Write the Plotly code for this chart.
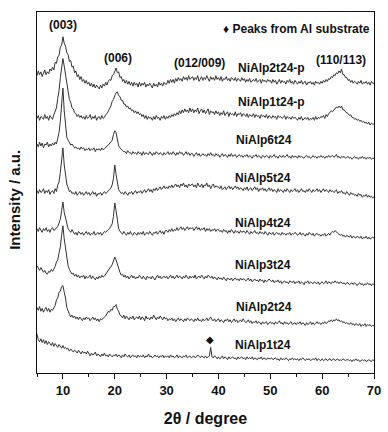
import plotly.graph_objects as go

# 2-theta sampling grid (degrees), 0.25 degree steps from 5 to 70
two_theta = [5 + 0.25 * i for i in range(261)]

sample_names = ["NiAlp2t24-p", "NiAlp1t24-p", "NiAlp6t24", "NiAlp5t24",
                "NiAlp4t24", "NiAlp3t24", "NiAlp2t24", "NiAlp1t24"]

# vertical stacking offsets (a.u.)
stack_offsets = [297, 260, 224, 182, 140, 92, 48, 12]

# intensities (a.u.); each row spans 5 degrees
i_2t24p = [16, 21, 17, 20, 15, 19, 22, 17, 20, 18, 23, 21, 25, 22, 30, 29, 36, 37, 46, 48,
           57, 50, 47, 40, 38, 31, 32, 25, 26, 19, 21, 15, 17, 12, 15, 10, 12, 8, 11, 7,
           9, 5, 8, 4, 7, 3, 6, 4, 2, 6, 3, 7, 5, 9, 6, 10, 12, 11, 16, 17,
           21, 24, 19, 20, 14, 15, 10, 12, 8, 11, 7, 10, 6, 9, 5, 9, 6, 8, 4, 9,
           5, 8, 6, 9, 4, 7, 5, 8, 6, 3, 8, 5, 7, 4, 9, 6, 8, 5, 9, 7,
           7, 11, 8, 12, 9, 12, 8, 13, 10, 14, 11, 13, 10, 15, 12, 14, 11, 16, 12, 14,
           15, 11, 14, 12, 16, 10, 13, 15, 11, 14, 12, 16, 13, 10, 15, 12, 14, 11, 16, 12,
           14, 11, 15, 10, 13, 12, 15, 11, 13, 10, 14, 12, 11, 14, 10, 13, 12, 10, 14, 11,
           13, 9, 12, 10, 13, 9, 11, 12, 10, 13, 9, 11, 12, 8, 12, 10, 11, 9, 12, 10,
           11, 8, 12, 9, 11, 7, 10, 12, 8, 11, 9, 10, 7, 11, 9, 12, 8, 10, 7, 11,
           9, 7, 10, 8, 11, 7, 9, 10, 6, 9, 8, 10, 7, 9, 6, 10, 8, 9, 7, 10,
           8, 11, 9, 12, 10, 13, 12, 15, 14, 17, 16, 19, 18, 21, 19, 23, 17, 17, 14, 14,
           11, 12, 9, 11, 8, 10, 9, 7, 10, 8, 11, 7, 9, 8, 10, 7, 9, 6, 10, 8,
           8]
i_1t24p = [8, 11, 6, 10, 9, 7, 12, 8, 10, 6, 11, 9, 7, 12, 15, 19, 29, 37, 51, 60,
           71, 63, 55, 43, 37, 28, 25, 19, 18, 14, 13, 10, 12, 9, 11, 8, 10, 7, 11, 8,
           9, 12, 7, 10, 8, 11, 6, 9, 10, 7, 11, 8, 9, 12, 13, 16, 19, 21, 26, 28,
           32, 35, 36, 32, 31, 27, 27, 23, 23, 20, 21, 18, 19, 16, 17, 14, 16, 13, 15, 12,
           13, 10, 12, 8, 11, 7, 10, 8, 9, 6, 10, 7, 11, 8, 9, 6, 10, 8, 11, 7,
           10, 8, 11, 9, 12, 10, 13, 11, 14, 12, 16, 13, 17, 14, 18, 15, 17, 14, 19, 15,
           18, 14, 17, 15, 19, 13, 16, 18, 14, 17, 13, 16, 18, 12, 16, 14, 15, 12, 16, 13,
           15, 11, 14, 12, 16, 11, 13, 15, 10, 14, 12, 13, 11, 15, 10, 13, 12, 14, 10, 13,
           12, 10, 13, 9, 12, 11, 10, 13, 9, 12, 10, 11, 8, 12, 10, 11, 9, 12, 8, 11,
           10, 8, 11, 9, 10, 7, 11, 9, 10, 8, 9, 11, 7, 10, 8, 9, 7, 10, 8, 9,
           8, 6, 9, 7, 10, 6, 8, 9, 7, 9, 6, 8, 7, 9, 6, 10, 7, 9, 8, 10,
           9, 11, 8, 12, 10, 13, 14, 16, 15, 17, 18, 20, 19, 21, 19, 21, 17, 17, 15, 14,
           13, 11, 12, 9, 9, 7, 8, 6, 7, 5, 6, 4, 5, 3, 4, 2, 4, 1, 3, 2,
           2]
i_6t24 = [17, 14, 19, 15, 18, 13, 17, 16, 19, 14, 17, 15, 18, 16, 19, 17, 23, 29, 41, 55,
          76, 52, 35, 24, 21, 19, 16, 17, 15, 13, 14, 12, 13, 11, 14, 12, 13, 10, 12, 11,
          13, 10, 12, 11, 13, 9, 12, 11, 12, 10, 13, 11, 12, 14, 15, 16, 18, 19, 21, 27,
          31, 29, 20, 15, 13, 11, 10, 9, 9, 7, 10, 8, 8, 6, 9, 7, 8, 6, 9, 7,
          8, 5, 9, 6, 8, 7, 6, 9, 7, 5, 8, 6, 9, 7, 6, 8, 7, 5, 8, 6,
          7, 9, 6, 8, 6, 9, 7, 5, 8, 6, 9, 7, 8, 5, 7, 9, 6, 8, 5, 7,
          7, 4, 6, 8, 5, 7, 4, 6, 7, 5, 6, 4, 7, 5, 8, 5, 6, 4, 7, 5,
          6, 3, 5, 7, 4, 6, 5, 3, 6, 4, 7, 4, 5, 6, 3, 5, 6, 4, 5, 3,
          5, 4, 6, 3, 5, 4, 2, 5, 4, 6, 3, 5, 4, 2, 5, 4, 3, 5, 4, 2,
          5, 3, 4, 6, 3, 4, 2, 5, 4, 3, 5, 3, 4, 6, 3, 4, 2, 5, 3, 4,
          4, 2, 5, 3, 4, 3, 2, 4, 5, 3, 4, 2, 3, 5, 3, 4, 2, 4, 3, 5,
          3, 4, 2, 4, 3, 5, 3, 4, 5, 3, 4, 6, 3, 4, 2, 4, 3, 4, 2, 3,
          4, 2, 3, 1, 3, 4, 2, 3, 1, 3, 2, 4, 2, 3, 1, 3, 2, 3, 1, 2,
          2]
i_5t24 = [10, 7, 11, 8, 9, 12, 7, 10, 8, 11, 6, 9, 10, 7, 12, 9, 16, 19, 29, 41,
          55, 37, 25, 17, 13, 9, 10, 7, 8, 6, 9, 5, 7, 9, 6, 8, 5, 7, 9, 6,
          8, 5, 7, 9, 6, 8, 4, 7, 6, 8, 5, 7, 9, 7, 8, 10, 11, 13, 16, 23,
          37, 27, 17, 11, 9, 7, 8, 6, 9, 7, 5, 8, 7, 9, 6, 8, 10, 7, 9, 8,
          10, 7, 9, 11, 8, 10, 12, 9, 11, 8, 12, 10, 13, 10, 12, 14, 11, 13, 15, 12,
          14, 12, 15, 13, 16, 13, 15, 17, 14, 16, 13, 17, 15, 18, 14, 16, 13, 17, 15, 16,
          17, 14, 16, 13, 18, 15, 14, 17, 13, 16, 15, 18, 14, 16, 12, 15, 17, 13, 15, 14,
          14, 12, 15, 11, 13, 14, 11, 13, 15, 12, 14, 11, 13, 15, 12, 14, 11, 13, 12, 10,
          13, 11, 14, 10, 12, 13, 10, 12, 14, 11, 13, 9, 12, 11, 13, 10, 12, 9, 11, 13,
          10, 12, 9, 11, 10, 8, 12, 9, 11, 10, 8, 11, 9, 12, 10, 8, 11, 9, 10, 12,
          9, 11, 8, 10, 12, 9, 10, 8, 11, 9, 12, 10, 8, 11, 9, 10, 12, 9, 11, 8,
          10, 12, 9, 11, 10, 8, 11, 9, 10, 8, 9, 11, 7, 9, 8, 10, 7, 8, 6, 9,
          7, 5, 8, 6, 7, 5, 6, 4, 7, 5, 6, 3, 5, 4, 6, 3, 5, 3, 4, 2,
          4]
i_4t24 = [12, 9, 13, 10, 8, 12, 10, 13, 9, 11, 8, 12, 13, 10, 11, 13, 14, 18, 22, 31,
          40, 29, 22, 15, 12, 10, 8, 11, 9, 6, 8, 5, 9, 7, 6, 8, 5, 7, 9, 6,
          8, 5, 7, 6, 9, 5, 7, 8, 6, 8, 5, 7, 9, 8, 10, 11, 12, 15, 17, 25,
          39, 31, 19, 12, 9, 8, 6, 9, 7, 5, 8, 6, 9, 6, 5, 8, 7, 5, 8, 6,
          8, 6, 9, 5, 7, 8, 6, 9, 7, 5, 8, 7, 9, 6, 8, 10, 7, 9, 6, 10,
          10, 8, 11, 9, 12, 9, 11, 10, 13, 10, 12, 14, 11, 13, 10, 12, 14, 11, 13, 12,
          13, 10, 12, 14, 11, 13, 10, 12, 11, 13, 9, 12, 10, 12, 9, 11, 10, 12, 9, 11,
          11, 9, 10, 8, 11, 9, 10, 7, 10, 8, 11, 9, 7, 10, 8, 9, 7, 10, 8, 9,
          9, 7, 10, 8, 6, 9, 7, 8, 10, 7, 8, 6, 9, 7, 8, 6, 9, 7, 5, 8,
          7, 6, 8, 5, 7, 8, 6, 7, 5, 8, 6, 7, 5, 7, 6, 8, 5, 7, 6, 8,
          7, 5, 6, 8, 5, 7, 6, 4, 7, 5, 8, 6, 5, 7, 4, 6, 7, 5, 6, 4,
          6, 5, 7, 4, 6, 7, 5, 8, 9, 8, 10, 8, 7, 6, 5, 6, 4, 5, 3, 5,
          4, 3, 5, 2, 4, 3, 2, 4, 3, 2, 4, 1, 3, 2, 4, 1, 3, 1, 2, 3,
          2]
i_3t24 = [21, 18, 16, 19, 17, 14, 16, 13, 12, 15, 14, 17, 15, 18, 20, 25, 27, 34, 41, 53,
          63, 49, 38, 26, 21, 17, 15, 12, 13, 10, 12, 9, 11, 8, 10, 9, 11, 7, 10, 8,
          9, 11, 7, 10, 8, 6, 9, 7, 10, 8, 11, 9, 10, 12, 14, 15, 17, 20, 22, 26,
          30, 27, 22, 16, 14, 11, 12, 9, 11, 8, 10, 7, 9, 11, 8, 10, 7, 9, 8, 11,
          9, 7, 10, 8, 6, 10, 8, 9, 7, 10, 8, 6, 9, 11, 8, 10, 7, 9, 10, 8,
          10, 7, 9, 11, 8, 10, 7, 9, 11, 8, 10, 9, 7, 10, 8, 11, 9, 7, 10, 8,
          10, 8, 11, 7, 9, 10, 8, 11, 9, 7, 10, 8, 11, 9, 8, 10, 7, 9, 8, 6,
          9, 7, 8, 6, 9, 7, 5, 8, 7, 6, 8, 5, 7, 8, 6, 7, 5, 8, 6, 7,
          7, 5, 6, 8, 5, 7, 4, 6, 7, 5, 6, 4, 7, 5, 6, 3, 6, 4, 5, 7,
          5, 4, 6, 3, 5, 4, 6, 3, 5, 2, 4, 5, 3, 4, 2, 5, 4, 3, 5, 2,
          4, 3, 5, 2, 4, 3, 1, 4, 3, 5, 2, 4, 3, 2, 4, 3, 2, 4, 1, 3,
          4, 2, 3, 5, 2, 4, 3, 2, 4, 3, 5, 3, 4, 2, 4, 3, 2, 3, 1, 3,
          3, 1, 2, 3, 1, 3, 2, 0, 2, 3, 1, 2, 0, 2, 1, 3, 1, 2, 0, 2,
          1]
i_2t24 = [21, 18, 22, 17, 20, 16, 19, 21, 17, 20, 16, 19, 18, 21, 23, 29, 31, 37, 38, 43,
          44, 37, 31, 21, 16, 14, 11, 13, 10, 12, 9, 11, 8, 11, 9, 7, 10, 8, 11, 9,
          10, 7, 9, 11, 8, 10, 7, 9, 6, 9, 8, 10, 11, 12, 14, 17, 16, 19, 18, 22,
          22, 24, 19, 17, 13, 12, 10, 13, 9, 12, 10, 8, 11, 9, 12, 8, 10, 11, 9, 12,
          8, 11, 10, 7, 12, 9, 10, 8, 11, 9, 13, 10, 8, 11, 9, 12, 10, 8, 11, 9,
          10, 7, 9, 8, 10, 7, 9, 6, 8, 10, 7, 9, 8, 6, 9, 7, 10, 8, 7, 9,
          8, 6, 9, 7, 10, 7, 8, 6, 9, 7, 8, 10, 7, 9, 11, 8, 7, 9, 6, 8,
          9, 6, 8, 7, 5, 8, 7, 9, 6, 8, 5, 7, 9, 6, 8, 5, 7, 8, 6, 9,
          7, 5, 6, 8, 5, 7, 4, 6, 5, 7, 4, 6, 5, 3, 6, 4, 5, 6, 3, 5,
          6, 4, 5, 3, 6, 4, 5, 7, 4, 5, 3, 6, 4, 5, 3, 5, 6, 3, 4, 5,
          3, 5, 4, 6, 3, 5, 4, 2, 5, 3, 4, 6, 3, 5, 3, 4, 6, 4, 5, 3,
          5, 4, 6, 4, 5, 7, 6, 8, 6, 8, 7, 9, 7, 8, 6, 7, 5, 6, 4, 5,
          4, 3, 5, 3, 4, 2, 4, 3, 2, 4, 1, 3, 2, 4, 1, 3, 2, 3, 1, 2,
          2]
i_1t24 = [29, 23, 21, 24, 20, 23, 19, 22, 18, 21, 19, 17, 20, 16, 19, 17, 15, 18, 16, 14,
          17, 14, 15, 13, 14, 11, 13, 12, 10, 12, 11, 9, 12, 10, 8, 11, 9, 10, 8, 11,
          8, 6, 9, 7, 8, 10, 6, 8, 7, 5, 8, 6, 9, 6, 7, 5, 8, 6, 5, 7,
          6, 8, 5, 7, 6, 4, 7, 5, 8, 6, 5, 7, 4, 6, 7, 5, 6, 4, 7, 5,
          6, 5, 7, 4, 6, 5, 8, 5, 6, 4, 5, 7, 5, 6, 4, 6, 5, 7, 4, 6,
          5, 6, 4, 7, 5, 6, 4, 5, 7, 4, 6, 5, 4, 6, 5, 7, 4, 5, 6, 4,
          5, 6, 4, 5, 7, 5, 4, 6, 5, 4, 6, 4, 5, 6, 15, 5, 4, 6, 5, 3,
          5, 3, 4, 6, 3, 5, 4, 2, 5, 3, 4, 5, 3, 4, 2, 5, 3, 4, 5, 3,
          4, 2, 5, 3, 4, 3, 5, 2, 4, 3, 2, 4, 3, 5, 2, 4, 3, 2, 4, 3,
          3, 4, 2, 3, 4, 2, 3, 1, 4, 2, 3, 2, 4, 3, 1, 3, 2, 4, 2, 3,
          2, 3, 1, 3, 2, 4, 2, 1, 3, 2, 3, 1, 2, 3, 2, 4, 1, 3, 2, 1,
          3, 1, 2, 3, 1, 2, 3, 1, 2, 3, 1, 2, 3, 1, 2, 1, 3, 2, 1, 2,
          2, 1, 2, 0, 2, 1, 3, 1, 2, 0, 1, 2, 1, 2, 0, 1, 2, 1, 0, 2,
          1]

intensities = [i_2t24p, i_1t24p, i_6t24, i_5t24, i_4t24, i_3t24, i_2t24, i_1t24]

# label positions (2theta, a.u.)
name_label_x = [50.3, 50.3, 48.7, 48.5, 48.5, 48.5, 48.7, 48.5]
name_label_y = [321, 285, 245, 205, 158, 114, 69, 29]

reflections = ["(003)", "(006)", "(012/009)", "(110/113)"]
refl_x = [10.0, 20.6, 36.3, 63.6]
refl_y = [366, 332, 326, 330]

LINE = "#333333"
FONT = "Liberation Sans, Arial, Helvetica, sans-serif"

fig = go.Figure()
for name, off, vals in zip(sample_names, stack_offsets, intensities):
    fig.add_trace(go.Scatter(
        x=two_theta, y=[off + v for v in vals], mode="lines", name=name,
        line=dict(color=LINE, width=1.0), showlegend=False, hoverinfo="skip"))

annotations = []
for name, lx, ly in zip(sample_names, name_label_x, name_label_y):
    annotations.append(dict(x=lx, y=ly, text="<b>" + name + "</b>", showarrow=False,
                            font=dict(size=12, color="#111", family=FONT),
                            xanchor="center", yanchor="middle"))
for t, rx, ry in zip(reflections, refl_x, refl_y):
    annotations.append(dict(x=rx, y=ry, text="<b>" + t + "</b>", showarrow=False,
                            font=dict(size=12, color="#111", family=FONT),
                            xanchor="center", yanchor="middle"))
annotations.append(dict(x=55.1, y=362, text="<b>\u2666 Peaks from Al substrate</b>",
                        showarrow=False, font=dict(size=12, color="#111", family=FONT),
                        xanchor="center", yanchor="middle"))
annotations.append(dict(x=38.4, y=35, text="\u25c6", showarrow=False,
                        font=dict(size=10, color="#111", family="DejaVu Sans"),
                        xanchor="center", yanchor="middle"))
annotations.append(dict(xref="paper", yref="paper", x=-0.065, y=0.48,
                        text="<b>Intensity / a.u.</b>", textangle=-90, showarrow=False,
                        font=dict(size=15, color="#111", family=FONT),
                        xanchor="center", yanchor="middle"))

fig.update_layout(
    width=388, height=432,
    margin=dict(l=37, r=7, t=12, b=40),
    paper_bgcolor="white", plot_bgcolor="white",
    annotations=annotations,
    xaxis=dict(range=[5, 70], tick0=0, dtick=10, ticks="outside", ticklen=5,
               tickwidth=1, tickcolor="#111", showgrid=False, zeroline=False,
               showline=True, linecolor="#111", linewidth=1, mirror=True,
               tickfont=dict(size=13, color="#111", family=FONT),
               tickprefix="<b>", ticksuffix="</b>",
               minor=dict(dtick=5, tick0=0, ticks="outside", ticklen=3, tickcolor="#111"),
               title=dict(text="<b>2\u03b8 / degree</b>", standoff=16,
                          font=dict(size=16, color="#111", family=FONT))),
    yaxis=dict(range=[0, 380], showticklabels=False, ticks="", showgrid=False,
               zeroline=False, showline=True, linecolor="#111", linewidth=1,
               mirror=True),
)

fig.write_html("out.html")
